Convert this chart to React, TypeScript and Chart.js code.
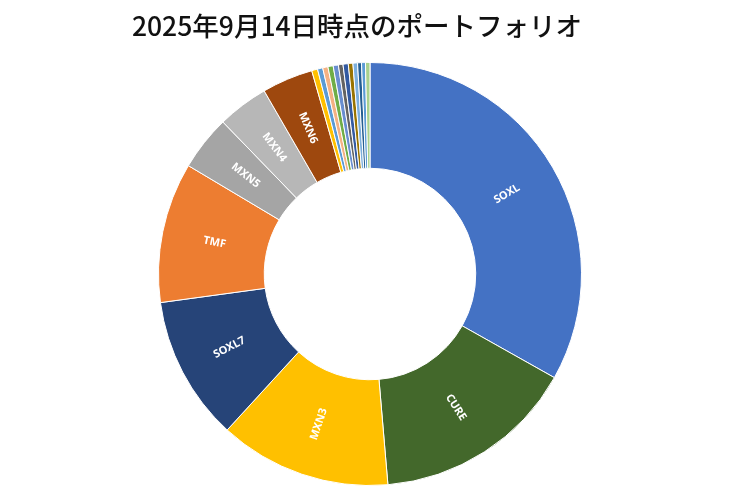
import React, { useRef, useEffect } from 'react';
import { Chart, DoughnutController, ArcElement } from 'chart.js';

Chart.register(DoughnutController, ArcElement);

const TITLE = '2025年9月14日時点のポートフォリオ';

// 銘柄（時計回り、12時から）
const tickers = [
  'SOXL', 'CURE', 'MXN3', 'SOXL7', 'TMF', 'MXN5', 'MXN4', 'MXN6',
  'その他1', 'その他2', 'その他3', 'その他4', 'その他5', 'その他6',
  'その他7', 'その他8', 'その他9', 'その他10', 'その他11', 'その他12',
];
// 構成比 %
const shares = [
  33.15, 15.5, 13.15, 11.04, 10.72, 4.2, 3.9, 3.9,
  0.45, 0.4, 0.4, 0.4, 0.4, 0.35, 0.4, 0.35, 0.35, 0.3, 0.3, 0.34,
];
// ラベル表示するのは上位8銘柄のみ
const shownLabels = ['SOXL', 'CURE', 'MXN3', 'SOXL7', 'TMF', 'MXN5', 'MXN4', 'MXN6'];

const sliceColors = [
  '#4472C4', '#43682B', '#FFC000', '#264478', '#ED7D31', '#A5A5A5', '#B7B7B7', '#9E480E',
  '#FFC000', '#5B9BD5', '#F4B183', '#70AD47', '#698ED0', '#636363',
  '#335AA1', '#997300', '#7CAFDD', '#255E91', '#5B9BD5', '#A9D18E',
];

export default function App() {
  const ref = useRef<HTMLCanvasElement>(null);
  const chartRef = useRef<Chart | null>(null);

  useEffect(() => {
    document.body.style.margin = '0';
    const canvas = ref.current;
    if (!canvas) return;
    chartRef.current?.destroy();

    chartRef.current = new Chart(canvas, {
      type: 'doughnut',
      data: {
        labels: tickers,
        datasets: [{
          data: shares,
          backgroundColor: sliceColors,
          borderColor: '#ffffff',
          borderWidth: 1,
        }],
      },
      options: {
        responsive: false,
        animation: false,
        cutout: '50%',
        layout: { padding: { top: 62, bottom: 7, left: 0, right: 0 } },
        plugins: {
          legend: { display: false },
          tooltip: { enabled: false },
        },
      },
      plugins: [{
        id: 'titleAndLabels',
        afterDatasetsDraw(chart) {
          const { ctx } = chart;
          ctx.save();
          ctx.fillStyle = '#111';
          ctx.font = '500 26.5px "Noto Sans CJK JP", "Noto Sans", sans-serif';
          ctx.textAlign = 'center';
          ctx.textBaseline = 'middle';
          ctx.fillText(TITLE, 357, 26);

          const meta = chart.getDatasetMeta(0);
          ctx.fillStyle = '#ffffff';
          ctx.font = 'bold 11px "Noto Sans", sans-serif';
          meta.data.forEach((arc: any, i: number) => {
            const name = tickers[i];
            if (!shownLabels.includes(name)) return;
            const { x, y, startAngle, endAngle, innerRadius, outerRadius } = arc.getProps(
              ['x', 'y', 'startAngle', 'endAngle', 'innerRadius', 'outerRadius'], true);
            const a = (startAngle + endAngle) / 2;
            const r = (innerRadius + outerRadius) / 2;
            const px = x + Math.cos(a) * r;
            const py = y + Math.sin(a) * r;
            let rot = a;
            if (Math.cos(a) < 0) rot = a + Math.PI;
            ctx.save();
            ctx.translate(px, py);
            ctx.rotate(rot);
            ctx.fillText(name, 0, 0);
            ctx.restore();
          });
          ctx.restore();
        },
      }],
    });

    return () => { chartRef.current?.destroy(); };
  }, []);

  return <canvas ref={ref} width={740} height={493} style={{ display: 'block' }} />;
}
